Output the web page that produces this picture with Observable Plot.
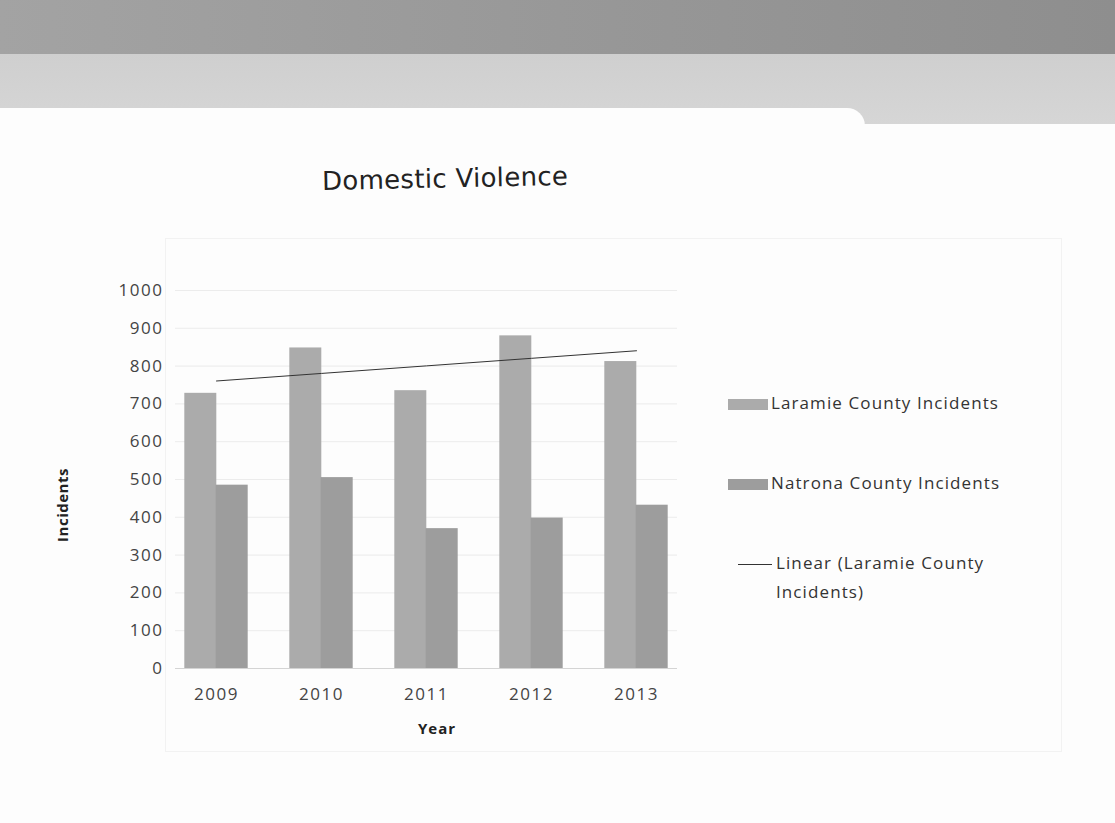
<!DOCTYPE html>
<html>
<head>
<meta charset="utf-8">
<script src="https://cdn.jsdelivr.net/npm/d3@7"></script>
<script src="https://cdn.jsdelivr.net/npm/@observablehq/plot@0.6"></script>
<style>
  html, body { margin: 0; padding: 0; }
  body { width: 1115px; height: 823px; position: relative; overflow: hidden; background: #fdfdfd; font-family: "Open Sans", sans-serif; }
  #band1 { position: absolute; left: 0; top: 0; width: 1115px; height: 54px; background: linear-gradient(90deg, #a3a3a3, #989898 50%, #8e8e8e); }
  #band2 { position: absolute; left: 0; top: 54px; width: 1115px; height: 72px; background: linear-gradient(180deg, #cfcfcf, #d6d6d6); }
  #card1 { position: absolute; left: -20px; top: 108px; width: 885px; height: 720px; background: #fdfdfd; border-top-right-radius: 18px; }
  #card2 { position: absolute; left: 850px; top: 124px; width: 300px; height: 720px; background: #fdfdfd; }
  #frame { position: absolute; left: 165px; top: 238px; width: 895px; height: 512px; border: 1px solid #f2f2f2; }
  #title { position: absolute; left: 322px; top: 166px; font-family: "DejaVu Sans", sans-serif; font-weight: normal; font-size: 26px; color: #222; letter-spacing: 0.3px; transform: rotate(-1.2deg); transform-origin: left center; }
  #chart { position: absolute; left: 40px; top: 270px; }
  #ylabel { position: absolute; left: 62px; top: 505px; transform: translate(-50%, -50%) rotate(-90deg); font-weight: bold; font-size: 15px; color: #222; letter-spacing: 0.5px; white-space: nowrap; }
  #xlabel { position: absolute; left: 437px; top: 728px; transform: translate(-50%, -50%); font-weight: bold; font-size: 15px; color: #222; letter-spacing: 1px; }
  .leg { position: absolute; font-size: 17px; color: #333; letter-spacing: 1.1px; line-height: 29px; white-space: nowrap; }
  .sw { display: inline-block; width: 40px; height: 11px; vertical-align: middle; margin-right: 3px; }
  .ln { display: inline-block; width: 34px; height: 1px; background: #333; vertical-align: middle; margin-right: 4px; }
</style>
</head>
<body>
<div id="band1"></div>
<div id="band2"></div>
<div id="card1"></div>
<div id="card2"></div>
<div id="frame"></div>
<div id="title">Domestic Violence</div>
<div id="chart"></div>
<div id="ylabel">Incidents</div>
<div id="xlabel">Year</div>
<div id="legend"></div>
<script>
const years = ["2009", "2010", "2011", "2012", "2013"];
const laramie = [728, 848, 735, 880, 812];
const natrona = [485, 505, 370, 398, 432];
const yTicks = [0, 100, 200, 300, 400, 500, 600, 700, 800, 900, 1000];
const seriesNames = ["Laramie County Incidents", "Natrona County Incidents", "Linear (Laramie County Incidents)"];
const colors = ["#ababab", "#9d9d9d", "#333333"];

const data = years.map((y, i) => ({year: y, laramie: laramie[i], natrona: natrona[i]}));

// Linear least-squares trendline of Laramie County values (as in the original "Linear" trendline)
const xs = years.map((_, i) => i + 1);
const mx = d3.mean(xs), my = d3.mean(laramie);
const slope = d3.sum(xs, (x, i) => (x - mx) * (laramie[i] - my)) / d3.sum(xs, x => (x - mx) ** 2);
const intercept = my - slope * mx;
const trend = years.map((y, i) => ({year: y, v: intercept + slope * xs[i]}));

const plot = Plot.plot({
  width: 645,
  height: 480,
  marginLeft: 135,
  marginRight: 8,
  marginTop: 20,
  marginBottom: 82,
  style: {fontSize: "17px", fontFamily: "Open Sans, sans-serif", color: "#444", background: "transparent"},
  x: {domain: years, paddingInner: 0.7, paddingOuter: 0.24, label: null, tickSize: 0, tickPadding: 19},
  y: {domain: [0, 1000], ticks: yTicks, tickFormat: d3.format("d"), label: null, tickSize: 0, tickPadding: 12},
  marks: [
    Plot.gridY(yTicks, {stroke: "#dcdcdc", strokeOpacity: 0.5}),
    Plot.ruleY([0], {stroke: "#d4d4d4"}),
    Plot.barY(data, {x: "year", y: "laramie", fill: colors[0], dx: -15.7}),
    Plot.barY(data, {x: "year", y: "natrona", fill: colors[1], dx: 15.7}),
    Plot.line(trend, {x: "year", y: "v", stroke: colors[2], strokeWidth: 1})
  ]
});
plot.querySelectorAll("text").forEach(t => t.style.letterSpacing = "1.5px");
document.getElementById("chart").appendChild(plot);

const legend = document.getElementById("legend");
const legPos = [[728, 388], [728, 468], [738, 548]];
seriesNames.forEach((name, i) => {
  const d = document.createElement("div");
  d.className = "leg";
  d.style.left = legPos[i][0] + "px";
  d.style.top = legPos[i][1] + "px";
  if (i < 2) {
    d.innerHTML = `<span class="sw" style="background:${colors[i]}"></span>${name}`;
  } else {
    d.innerHTML = `<span class="ln"></span>Linear (Laramie County<br><span style="margin-left:38px">Incidents)</span>`;
  }
  legend.appendChild(d);
});
</script>
</body>
</html>
